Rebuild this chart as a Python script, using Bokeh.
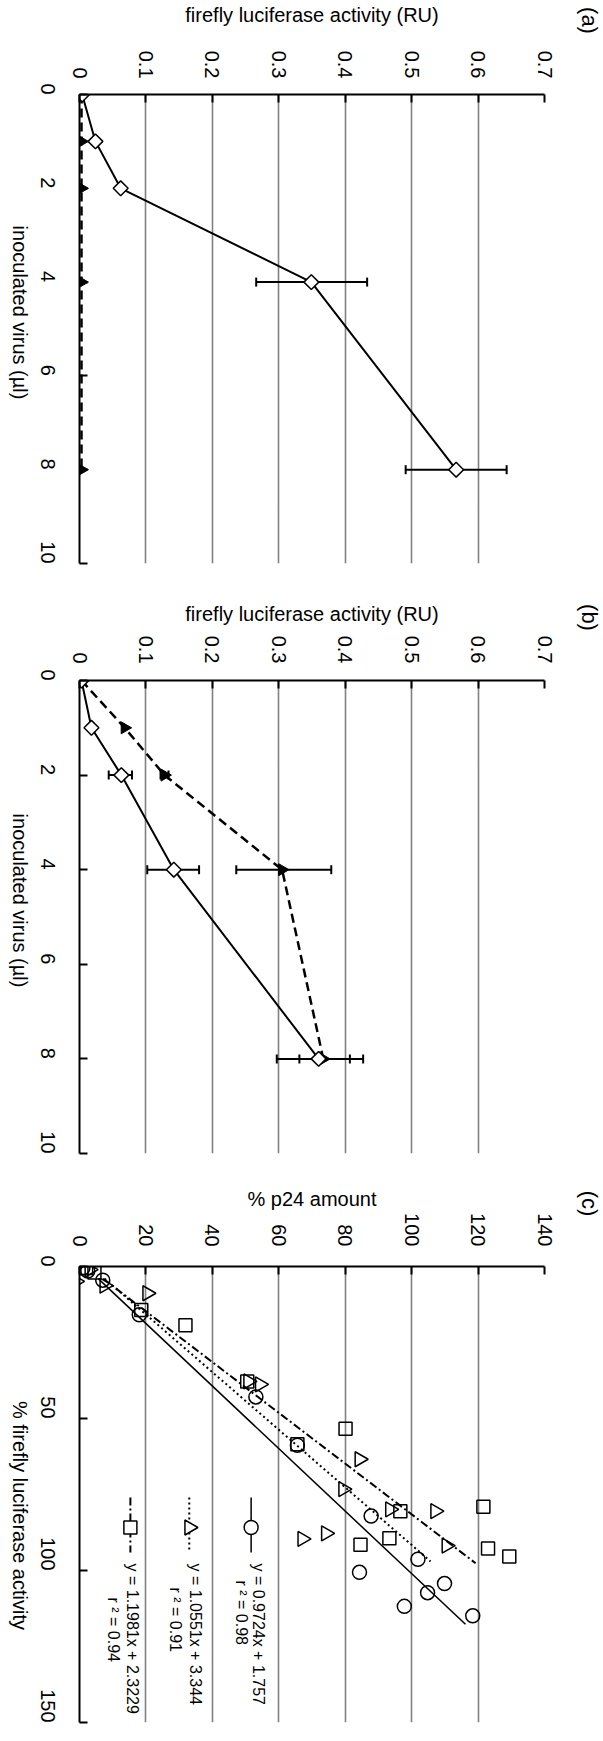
import math
from bokeh.plotting import figure
from bokeh.models import (Range1d, FixedTicker, Whisker, TeeHead,
                          ColumnDataSource)
from bokeh.core.properties import value
from bokeh.layouts import column, row
from bokeh.embed import file_html
from bokeh.resources import INLINE

FONT = "Liberation Sans"

# ---------------- data ----------------
virus = [0, 1, 2, 4, 8]

# panel (a)
a_open = [0.004, 0.024, 0.062, 0.349, 0.567]
a_open_lo = [None, None, None, 0.266, 0.491]
a_open_hi = [None, None, None, 0.433, 0.643]
a_filled = [0.003, 0.003, 0.003, 0.003, 0.003]
a_filled_lo = [None, None, None, None, None]
a_filled_hi = [None, None, None, None, None]

# panel (b)
b_open = [0.003, 0.018, 0.063, 0.142, 0.360]
b_open_lo = [None, None, 0.044, 0.102, 0.297]
b_open_hi = [None, None, 0.079, 0.180, 0.427]
b_filled = [0.003, 0.068, 0.128, 0.305, 0.367]
b_filled_lo = [None, None, 0.122, 0.236, 0.331]
b_filled_hi = [None, None, 0.134, 0.379, 0.407]

act_ticks = [0, 0.1, 0.2, 0.3, 0.4, 0.5, 0.6, 0.7]
act_labels = ["0", "0.1", "0.2", "0.3", "0.4", "0.5", "0.6", "0.7"]
virus_ticks = [0, 2, 4, 6, 8, 10]

# panel (c): x = % firefly luciferase activity, y = % p24 amount
c_circle_luc = [0.5, 1.5, 4.5, 15.9, 42.9, 58.8, 82.1, 96.3, 100.6, 104.3, 107.3, 111.8, 114.9]
c_circle_p24 = [1.0, 2.5, 7.0, 18.0, 53.1, 65.6, 87.8, 101.9, 84.3, 109.9, 104.8, 97.8, 118.4]
c_tri_luc = [-1.0, 1.0, 4.9, 6.3, 8.8, 37.8, 38.8, 63.4, 73.2, 79.9, 80.5, 87.8, 89.6, 91.8]
c_tri_p24 = [0.0, 3.0, -1.1, 7.5, 20.4, 50.8, 54.3, 84.3, 79.4, 93.5, 107.1, 74.2, 67.1, 110.5]
c_sq_luc = [0.5, 2.0, 14.3, 19.3, 37.8, 53.4, 58.5, 80.5, 79.0, 89.4, 91.5, 92.8, 95.4]
c_sq_p24 = [2.0, 4.5, 18.6, 31.9, 50.5, 80.1, 65.6, 96.6, 121.6, 93.3, 84.6, 123.0, 129.4]

fit_slope = [0.9724, 1.0551, 1.1981]
fit_intercept = [1.757, 3.344, 2.3229]
fit_r2 = ["0.98", "0.91", "0.94"]
fit_luc_range = [(4, 117.7), (4, 97.0), (4, 97.6)]

luc_ticks = [0, 50, 100, 150]
p24_ticks = [0, 20, 40, 60, 80, 100, 120, 140]

# ---------------- layout constants ----------------
GRID = "#808080"
LEFT_W = 30      # strip holding the rotated x-axis title
MAIN_W = 528     # main figure (left border 48, frame 466, right border 14)
RIGHT_W = 45     # strip holding the panel tag
FRAME_W = 466


def no_align(fig):
    if "frame_align" in fig.properties():
        fig.frame_align = False


def strip(width, height):
    s = figure(width=width, height=height, x_range=Range1d(0, width),
               y_range=Range1d(height, 0), x_axis_type=None, y_axis_type=None,
               output_backend="svg", toolbar_location=None, title=None,
               min_border=0, min_border_left=0, min_border_right=0,
               min_border_top=0, min_border_bottom=0)
    s.outline_line_color = None
    s.background_fill_color = "white"
    s.border_fill_color = "white"
    no_align(s)
    return s


def strip_text(s, x, y, text, size="20px"):
    s.text(x=[x], y=[y], text=[text], angle=-math.pi / 2,
           text_font=value(FONT), text_font_size=value(size),
           text_color="black", text_align="center", text_baseline="middle")


def base_fig(height, top, bottom, xr, yr, xticks, yticks, xlabel, label_standoff,
             tick_standoff):
    p = figure(width=MAIN_W, height=height, x_range=xr, y_range=yr,
               x_axis_location="above", output_backend="svg",
               toolbar_location=None, title=None, min_border_left=48,
               min_border_right=14, min_border_top=top, min_border_bottom=bottom)
    no_align(p)
    p.outline_line_color = None
    p.background_fill_color = "white"
    p.border_fill_color = "white"
    p.ygrid.visible = False
    p.xgrid.ticker = FixedTicker(ticks=xticks[1:])
    p.xgrid.grid_line_color = GRID
    p.xgrid.grid_line_width = 1.6

    ax = p.xaxis[0]
    ax.ticker = FixedTicker(ticks=xticks)
    ax.major_label_orientation = -math.pi / 2
    ax.major_tick_in = 8
    ax.major_tick_out = 0
    ax.minor_tick_line_color = None
    ax.axis_line_width = 2
    ax.axis_line_color = "black"
    ax.major_tick_line_width = 2
    ax.major_tick_line_color = "black"
    ax.major_label_text_font = FONT
    ax.major_label_text_font_size = "20px"
    ax.major_label_text_color = "black"
    ax.major_label_standoff = tick_standoff
    ax.axis_label = xlabel
    ax.axis_label_text_font = FONT
    ax.axis_label_text_font_size = "20px"
    ax.axis_label_text_font_style = "normal"
    ax.axis_label_text_color = "black"
    ax.axis_label_standoff = label_standoff

    ay = p.yaxis[0]
    ay.ticker = FixedTicker(ticks=yticks)
    ay.major_label_orientation = -math.pi / 2
    ay.major_tick_in = 8
    ay.major_tick_out = 0
    ay.minor_tick_line_color = None
    ay.axis_line_width = 2
    ay.axis_line_color = "black"
    ay.major_tick_line_width = 2
    ay.major_tick_line_color = "black"
    ay.major_label_text_font = FONT
    ay.major_label_text_font_size = "20px"
    ay.major_label_text_color = "black"
    ay.major_label_standoff = 32
    return p


def add_errors(p, vals_lo, vals_hi):
    base, lo, hi = [], [], []
    for v, l, h in zip(virus, vals_lo, vals_hi):
        if l is not None:
            base.append(v)
            lo.append(l)
            hi.append(h)
    if not base:
        return
    src = ColumnDataSource(dict(base=base, lo=lo, hi=hi))
    p.add_layout(Whisker(source=src, base="base", lower="lo", upper="hi",
                         dimension="width", line_width=2, line_color="black",
                         upper_head=TeeHead(size=9, line_width=2, line_color="black"),
                         lower_head=TeeHead(size=9, line_width=2, line_color="black")))


def activity_panel(tag, open_v, open_lo, open_hi, fill_v, fill_lo, fill_hi,
                   height, top, bottom, label_standoff, tick_standoff,
                   xtitle_y, tag_y):
    p = base_fig(height, top, bottom, Range1d(0, 0.7), Range1d(10, 0),
                 act_ticks, virus_ticks, "firefly luciferase activity (RU)",
                 label_standoff, tick_standoff)
    p.xaxis[0].major_label_overrides = dict(zip(act_ticks, act_labels))
    add_errors(p, fill_lo, fill_hi)
    add_errors(p, open_lo, open_hi)
    p.line(fill_v, virus, line_color="black", line_width=2.5, line_dash="9 5")
    p.line(open_v, virus, line_color="black", line_width=2)
    p.scatter(fill_v, virus, marker="triangle", angle=-math.pi / 2, size=12,
              fill_color="black", line_color="black")
    p.scatter(open_v, virus, marker="square", angle=math.pi / 4, size=10.5,
              fill_color="white", line_color="black", line_width=1.5)
    left = strip(LEFT_W, height)
    strip_text(left, 19, xtitle_y, "inoculated virus (\u00b5l)")
    right = strip(RIGHT_W, height)
    strip_text(right, 31, tag_y, tag, size="22px")
    return row(left, p, right, spacing=0)


ra = activity_panel("(a)", a_open, a_open_lo, a_open_hi, a_filled, a_filled_lo,
                    a_filled_hi, 583, 93, 20, 22, 16, 312, 20)
rb = activity_panel("(b)", b_open, b_open_lo, b_open_hi, b_filled, b_filled_lo,
                    b_filled_hi, 583, 97, 13, 8, 17, 317, 34)

# ---------------- panel (c) ----------------
HC = 566
pc = base_fig(HC, 100, 10, Range1d(0, 140), Range1d(150, 0), p24_ticks, luc_ticks,
              "% p24 amount", 0, 20)

dashes = ["solid", "2 3", "8 3 2 3"]
widths = [1.5, 2, 2]
for k in range(3):
    l0, l1 = fit_luc_range[k]
    xs = [fit_slope[k] * l0 + fit_intercept[k], fit_slope[k] * l1 + fit_intercept[k]]
    pc.line(xs, [l0, l1], line_color="black", line_width=widths[k], line_dash=dashes[k])

pc.scatter(c_circle_p24, c_circle_luc, marker="circle", size=14, fill_color=None,
           line_color="black", line_width=1.5)
pc.scatter(c_tri_p24, c_tri_luc, marker="triangle", angle=-math.pi / 2, size=15,
           fill_color=None, line_color="black", line_width=1.5)
pc.scatter(c_sq_p24, c_sq_luc, marker="square", size=13, fill_color=None,
           line_color="black", line_width=1.5)

# legend drawn rotated (positions converted from pixels to the panel's data units)
px_x = 140 / float(FRAME_W)
px_y = 150 / 456.0
leg_x = [(250 - 78) * px_x, (188 - 78) * px_x, (129 - 78) * px_x]
leg_text_x = [(257 - 78) * px_x, (194 - 78) * px_x, (131 - 78) * px_x]
leg_r2_x = [(240 - 78) * px_x, (174 - 78) * px_x, (112 - 78) * px_x]
leg_r2_y = [(1580 - 1266) * px_y, (1587 - 1266) * px_y, (1597 - 1266) * px_y]
leg_markers = ["circle", "triangle", "square"]
leg_sizes = [14, 15, 13]
y0, y1 = (1497 - 1266) * px_y, (1552 - 1266) * px_y
ym, yt = (1527 - 1266) * px_y, (1563 - 1266) * px_y
for k in range(3):
    pc.line([leg_x[k], leg_x[k]], [y0, y1], line_color="black", line_width=widths[k],
            line_dash=dashes[k])
    pc.scatter([leg_x[k]], [ym], marker=leg_markers[k], size=leg_sizes[k],
               angle=(-math.pi / 2 if leg_markers[k] == "triangle" else 0),
               fill_color="white", line_color="black", line_width=1.5)
    eq = "y = %sx + %s" % (fit_slope[k], fit_intercept[k])
    pc.text(x=[leg_text_x[k]], y=[yt], text=[eq], angle=-math.pi / 2,
            text_font=value(FONT), text_font_size=value("16px"), text_color="black",
            text_align="left", text_baseline="middle")
    pc.text(x=[leg_r2_x[k]], y=[leg_r2_y[k]], text=["r \u00b2 = " + fit_r2[k]],
            angle=-math.pi / 2, text_font=value(FONT), text_font_size=value("16px"),
            text_color="black", text_align="left", text_baseline="middle")

lc = strip(LEFT_W, HC)
strip_text(lc, 19, 349, "% firefly luciferase activity")
rc = strip(RIGHT_W, HC)
strip_text(rc, 31, 37, "(c)", size="22px")
rowc = row(lc, pc, rc, spacing=0)

layout = column(ra, rb, rowc, spacing=0)
open("out.html", "w").write(file_html(layout, INLINE))
